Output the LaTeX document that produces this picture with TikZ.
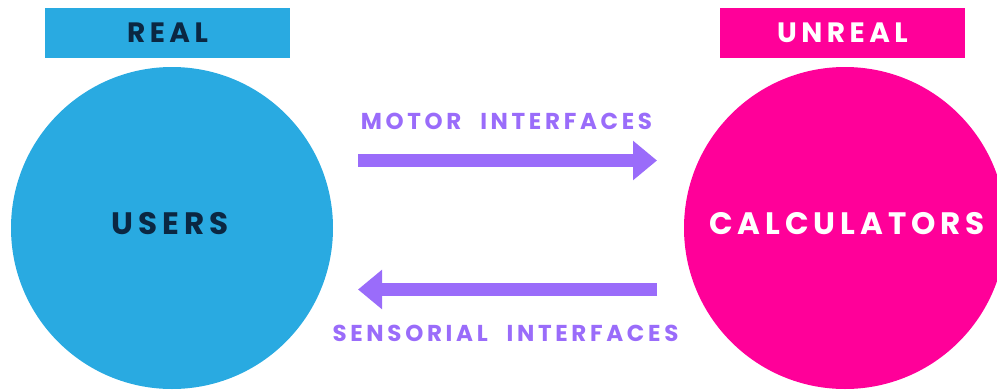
\documentclass[tikz,border=0pt]{standalone}
\usepackage{fontspec}
\setmainfont{Poppins}
\newfontfamily\spaced[LetterSpace=16,WordSpace=2.2]{Poppins}
\usetikzlibrary{arrows.meta}
\definecolor{realblue}{HTML}{29AAE1}
\definecolor{unrealpink}{HTML}{FF0099}
\definecolor{ifacepurple}{HTML}{9A6CFA}
\definecolor{darknavy}{HTML}{0B2742}

\begin{document}
\begin{tikzpicture}[x=1pt,y=-1pt,
  tag/.style={rectangle,minimum width=245pt,minimum height=50pt,inner sep=0pt,
    text height=20pt,text depth=0pt,font=\spaced\bfseries\fontsize{28}{28}\selectfont},
  world/.style={circle,minimum size=322pt,inner sep=0pt},
  wname/.style={inner sep=0pt,text height=22pt,text depth=0pt,
    font=\spaced\bfseries\fontsize{31}{31}\selectfont},
  ilabel/.style={inner sep=0pt,text height=16pt,text depth=0pt,text=ifacepurple,
    font=\spaced\bfseries\fontsize{23}{23}\selectfont},
  iface/.style={ifacepurple,line width=13pt,-{Triangle[length=24pt,width=38pt]}}]
\def\yTop{160.5}
\def\yBot{289.5}
\useasboundingbox (0,0) rectangle (997,389);
\clip (0,0) rectangle (997,389);
\path
(167.5,32.5) node [tag,fill=realblue,text=darknavy] (realtag) {REAL}
(842.5,32.5) node [tag,fill=unrealpink,text=white] (unrealtag) {UNREAL}
(172,228) node [world,fill=realblue] (users) {}
(845,228) node [world,fill=unrealpink] (calculators) {}
(170,223) node [wname,text=darknavy] (usersname) {USERS}
(847,223) node [wname,text=white] (calcname) {CALCULATORS}
(506.5,121) node [ilabel] (motorlabel) {MOTOR INTERFACES}
(505.5,333) node [ilabel] (senselabel) {SENSORIAL INTERFACES}
;
\coordinate (motorstart) at (358,\yTop);
\coordinate (motorend) at (657,\yTop);
\coordinate (sensestart) at (657,\yBot);
\coordinate (senseend) at (358,\yBot);
\draw[iface] (motorstart) -- (motorend);
\draw[iface] (sensestart) -- (senseend);
\end{tikzpicture}
\end{document}
